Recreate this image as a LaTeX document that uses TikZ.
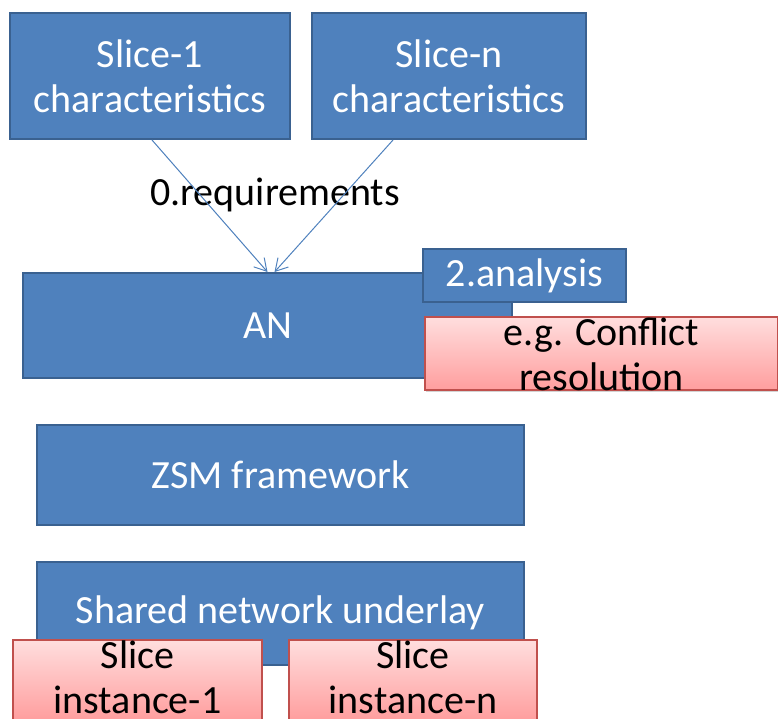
\documentclass[tikz,border=0pt]{standalone}
\usepackage{fontspec}
\setmainfont{Carlito}
\usetikzlibrary{arrows.meta,shadows}
\definecolor{boxblue}{HTML}{4F81BD}
\definecolor{boxedge}{HTML}{3A6190}
\definecolor{pinktop}{HTML}{FFDEDE}
\definecolor{pinkbot}{HTML}{FF9E9E}
\definecolor{pinkedge}{HTML}{C0504D}
\tikzset{
  bluebox/.style={draw=boxedge, line width=2pt, fill=boxblue, text=white,
    inner sep=0pt, align=center, font=\fontsize{40}{45}\selectfont},
  pinkbox/.style={draw=pinkedge, line width=1.2pt, top color=pinktop, bottom color=pinkbot,
    inner sep=0pt, drop shadow={shadow xshift=1pt, shadow yshift=-2pt, opacity=0.35}},
  pinktext/.style={inner sep=0pt, align=center, text=black, font=\fontsize{40}{45}\selectfont},
  reqarrow/.style={draw=boxblue, line width=1pt, -{Straight Barb[length=12pt,width=14pt]}},
}
\begin{document}
\begin{tikzpicture}[x=1pt,y=-1pt]
\useasboundingbox (0,0) rectangle (778,718);
% top slice characteristic boxes
\node[bluebox, minimum width=280pt, minimum height=126pt] (s1) at (150,76) {Slice-1\\characteristics};
\node[bluebox, minimum width=274pt, minimum height=126pt] (sn) at (449,76) {Slice-n\\characteristics};
% AN
\node[bluebox, minimum width=489pt, minimum height=105pt] (an) at (267.5,325.5) {AN};
\node[bluebox, minimum width=203pt, minimum height=53pt] (ana) at (524.5,275.5) {2.analysis};
\node[pinkbox, minimum width=353pt, minimum height=73pt] (cr) at (601.5,353.5) {};
\node[pinktext] (crt) at (601.5,354) {e.g. Conflict\\resolution};
% arrows
\node[inner sep=0pt, font=\fontsize{40}{45}\selectfont] (req) at (275,195) {0.requirements};
\draw[reqarrow] ([xshift=2pt]s1.south) -- ([xshift=0pt]an.north);
\draw[reqarrow] ([xshift=-56pt]sn.south) -- ([xshift=7pt]an.north);
% ZSM
\node[bluebox, minimum width=487pt, minimum height=100pt] (zsm) at (280.5,475) {ZSM framework};
% underlay
\node[bluebox, minimum width=487pt, minimum height=103pt] (und) at (280.5,613.5) {};
\node[inner sep=0pt, text=white, font=\fontsize{40}{45}\selectfont] (undt) at (280.5,613) {Shared network underlay};
\node[pinkbox, minimum width=249pt, minimum height=80pt] (si1) at (137.5,680) {};
\node[pinktext] (si1t) at (137.5,677) {Slice\\instance-1};
\node[pinkbox, minimum width=248pt, minimum height=80pt] (sin) at (413,680) {};
\node[pinktext] (sint) at (413,677) {Slice\\instance-n};
\end{tikzpicture}
\end{document}
